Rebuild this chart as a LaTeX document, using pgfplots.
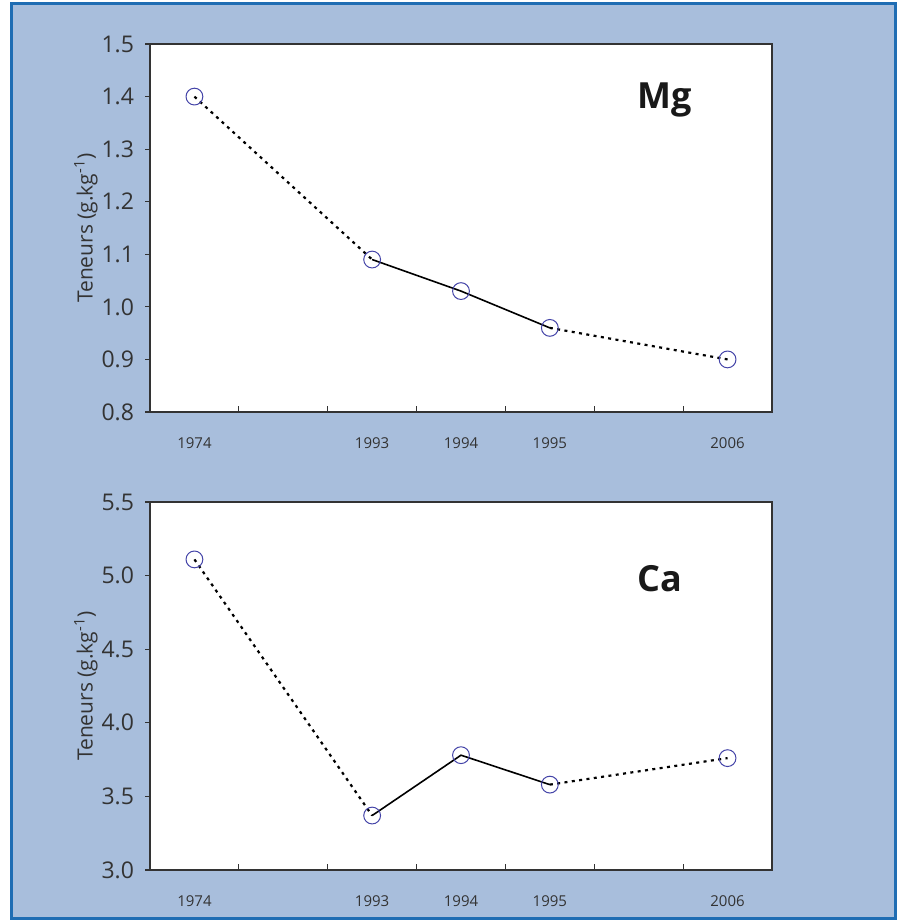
\documentclass[border=0pt]{standalone}
\usepackage{pgfplots}
\pgfplotsset{compat=1.18}
\usepackage{fontspec}
\setmainfont{Open Sans}
\definecolor{panel}{HTML}{A8BEDC}
\definecolor{frame}{HTML}{1F6DB3}
\definecolor{ring}{HTML}{4444A8}
\definecolor{axgray}{HTML}{333333}

\pgfplotsset{
  panelaxis/.style={
    scale only axis, width=311pt, height=184pt,
    axis background/.style={fill=white},
    axis line style={axgray, line width=0.8pt},
    xmin=0, xmax=7,
    xtick={0.5,2.5,3.5,4.5,6.5},
    xticklabels={1974,1993,1994,1995,2006},
    major x tick style={draw=none},
    minor xtick={0,1,...,7},
    minor tick length=3pt,
    minor x tick style={axgray, line width=0.6pt},
    xticklabel style={font=\fontsize{7.5}{8}\selectfont, text=axgray, yshift=-9.5pt},
    ytick align=outside, xtick pos=bottom, ytick pos=left,
    major tick length=2.5pt,
    y tick style={axgray, line width=0.6pt},
    yticklabel style={font=\fontsize{11.5}{13}\selectfont, text=axgray, xshift=-2pt},
    /pgf/number format/.cd, fixed, fixed zerofill, precision=1, assume math mode=true,
    /pgfplots/.cd,
    ylabel={Teneurs (g.kg\textsuperscript{-1})},
    ylabel style={font=\fontsize{10.5}{12}\selectfont, text=axgray, anchor=center,
      at={(axis description cs:-0.103,0.5)}},
    clip=false,
  },
  dotseg/.style={black, line width=1.1pt, dash pattern=on 1.5pt off 2.2pt, no marks},
  solseg/.style={black, line width=0.8pt, no marks},
  rings/.style={only marks, mark=o, mark size=4.2pt, mark options={ring, line width=0.5pt}},
}

\begin{document}
\begin{tikzpicture}
\fill[white] (0,0) rectangle (451pt,461.5pt);
\draw[frame, line width=1.5pt, fill=panel] (5.75pt,2.25pt) rectangle (447.5pt,459.75pt);

% Mg
\begin{axis}[panelaxis, at={(75pt,255.5pt)}, anchor=south west,
  ymin=0.8, ymax=1.5, ytick distance=0.1]
\addplot[dotseg] coordinates {(0.5,1.40) (2.5,1.09)};
\addplot[solseg] coordinates {(2.5,1.09) (3.5,1.03) (4.5,0.96)};
\addplot[dotseg] coordinates {(4.5,0.96) (6.5,0.90)};
\addplot[rings] coordinates {(0.5,1.40) (2.5,1.09) (3.5,1.03) (4.5,0.96) (6.5,0.90)};
\node[font=\bfseries\fontsize{18}{20}\selectfont, text=black!90] at (rel axis cs:0.828,0.848) {Mg};
\end{axis}

% Ca
\begin{axis}[panelaxis, at={(75pt,26.5pt)}, anchor=south west,
  ymin=3.0, ymax=5.5, ytick distance=0.5]
\addplot[dotseg] coordinates {(0.5,5.11) (2.5,3.37)};
\addplot[solseg] coordinates {(2.5,3.37) (3.5,3.78) (4.5,3.58)};
\addplot[dotseg] coordinates {(4.5,3.58) (6.5,3.76)};
\addplot[rings] coordinates {(0.5,5.11) (2.5,3.37) (3.5,3.78) (4.5,3.58) (6.5,3.76)};
\node[font=\bfseries\fontsize{18}{20}\selectfont, text=black!90] at (rel axis cs:0.82,0.793) {Ca};
\end{axis}
\end{tikzpicture}
\end{document}
